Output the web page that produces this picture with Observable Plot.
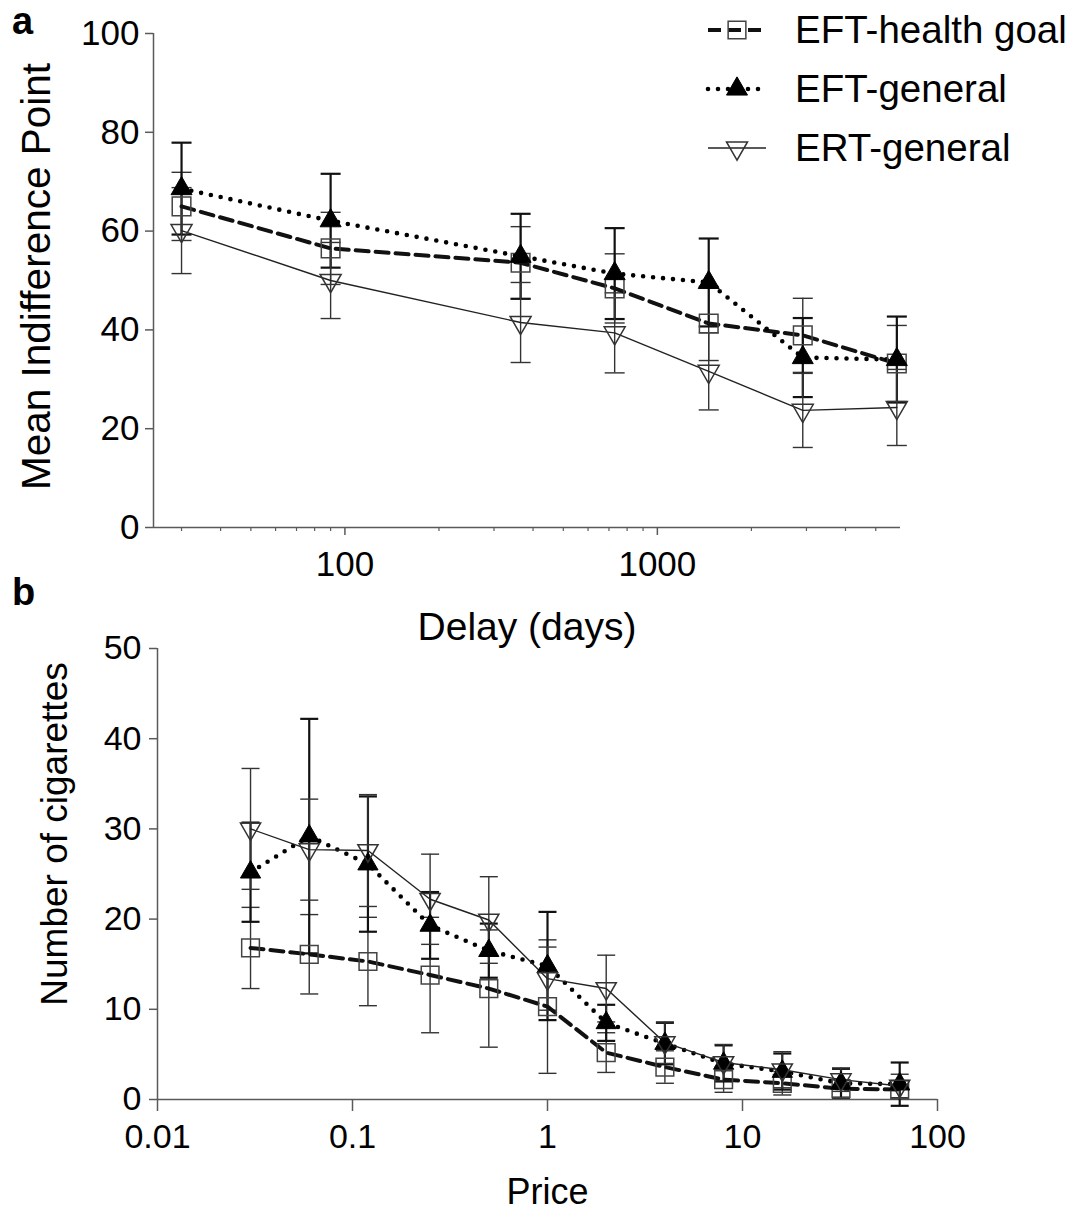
<!DOCTYPE html>
<html>
<head>
<meta charset="utf-8">
<script src="https://cdn.jsdelivr.net/npm/d3@7"></script>
<script src="https://cdn.jsdelivr.net/npm/@observablehq/plot@0.6"></script>
<style>
  body { margin: 0; background: #fff; font-family: "Liberation Sans", Arial, Helvetica, sans-serif; }
  #fig { position: relative; width: 1087px; height: 1211px; overflow: hidden; background: #fff; }
  #fig > svg { position: absolute; left: 0; }
  .panel-label { position: absolute; font-weight: bold; font-size: 38px; line-height: 1; color: #000; }
</style>
</head>
<body>
<div id="fig">
  <div class="panel-label" style="left:12px;top:2px">a</div>
  <div class="panel-label" style="left:12px;top:573px">b</div>
</div>
<script>
// ---------- Data: panel a (delay discounting) ----------
const delays = [30, 90, 365, 730, 1460, 2920, 5840];
const healthA    = [65.0, 56.5, 53.6, 48.4, 41.3, 38.9, 33.2];
const healthAErr = [6.9, 7.3, 7.3, 7.0, 7.5, 7.5, 7.7];
const genA       = [68.6, 62.1, 54.9, 51.4, 49.6, 34.4, 34.0];
const genAErr    = [9.3, 9.5, 8.6, 9.2, 8.9, 8.0, 8.7];
const ertA       = [60.1, 50.0, 41.5, 39.4, 31.6, 23.7, 24.3];
const ertAErr    = [8.7, 7.7, 8.1, 8.1, 7.8, 7.5, 7.7];
const xDomainA = [24.4, 6000];
const yDomainA = [0, 100];
const yTicksA = [0, 20, 40, 60, 80, 100];
const xMajorA = [100, 1000];
const xMinorA = [30, 40, 50, 60, 70, 80, 90, 200, 300, 400, 500, 600, 700, 800, 900, 2000, 3000, 4000, 5000];

// ---------- Data: panel b (cigarette purchase task) ----------
const prices = [0.03, 0.06, 0.12, 0.25, 0.5, 1, 2, 4, 8, 16, 32, 64];
const healthB    = [16.8, 16.1, 15.3, 13.8, 12.3, 10.3, 5.2, 3.6, 2.2, 1.8, 1.2, 1.1];
const healthBErr = [4.5, 4.4, 4.9, 6.4, 6.5, 7.4, 2.2, 1.8, 1.4, 1.3, 1.0, 1.0];
const genB       = [25.2, 29.2, 26.1, 19.3, 16.5, 14.8, 8.5, 6.2, 4.0, 3.1, 1.8, 1.7];
const genBErr    = [5.5, 13.0, 7.5, 3.7, 3.0, 6.0, 2.0, 2.3, 2.0, 2.0, 1.6, 2.4];
const ertB       = [30.0, 27.7, 27.6, 22.2, 19.9, 13.4, 12.3, 6.3, 4.1, 3.3, 2.2, 1.5];
const ertBErr    = [6.7, 5.6, 6.2, 5.0, 4.8, 3.5, 3.7, 2.3, 2.0, 2.0, 1.3, 1.3];
const xDomainB = [0.01, 100];
const yDomainB = [0, 50];
const yTicksB = [0, 10, 20, 30, 40, 50];
const xTicksB = [0.01, 0.1, 1, 10, 100];

const seriesNames = ["EFT-health goal", "EFT-general", "ERT-general"];

// ---------- helpers ----------
function rows(xs, ys, es, series) {
  return xs.map((x, i) => ({x, y: ys[i], lo: ys[i] - es[i], hi: ys[i] + es[i], series}));
}
const capSymbol = {
  draw(ctx, size) { const w = Math.sqrt(size / Math.PI); ctx.moveTo(-w, 0); ctx.lineTo(w, 0); }
};
const styles = {
  "EFT-health goal": {bar: "#333", barW: 1.4, line: {stroke: "#111", strokeWidth: 4, strokeDasharray: "13,7"},
                      dot: {symbol: "square", fill: "none", stroke: "#444", strokeWidth: 1.5}},
  "EFT-general":     {bar: "#111", barW: 2.2, line: {stroke: "#000", strokeWidth: 4.6, strokeDasharray: "0,10", strokeLinecap: "round"},
                      dot: {symbol: "triangle", fill: "#000", stroke: "#000", strokeWidth: 1}},
  "ERT-general":     {bar: "#333", barW: 1.4, line: {stroke: "#222", strokeWidth: 1.4},
                      dot: {symbol: "triangle", rotate: 180, fill: "none", stroke: "#333", strokeWidth: 1.5}}
};
function errorMarks(data, name, capR) {
  const s = styles[name];
  return [
    Plot.ruleX(data, {x: "x", y1: "lo", y2: "hi", stroke: s.bar, strokeWidth: s.barW}),
    Plot.dot(data, {x: "x", y: "lo", symbol: capSymbol, r: capR, stroke: s.bar, strokeWidth: s.barW}),
    Plot.dot(data, {x: "x", y: "hi", symbol: capSymbol, r: capR, stroke: s.bar, strokeWidth: s.barW})
  ];
}
function lineMark(data, name) { return Plot.line(data, {x: "x", y: "y", ...styles[name].line}); }
function dotMark(data, name, rs) { return Plot.dot(data, {x: "x", y: "y", r: rs[name], ...styles[name].dot}); }

const font = '"Liberation Sans", Arial, Helvetica, sans-serif';
const axisColor = "#5a5a5a";
const fig = document.getElementById("fig");

// ---------- Panel a ----------
const dataA = [
  rows(delays, healthA, healthAErr, seriesNames[0]),
  rows(delays, genA, genAErr, seriesNames[1]),
  rows(delays, ertA, ertAErr, seriesNames[2])
];
const rA = {"EFT-health goal": 10.5, "EFT-general": 7.8, "ERT-general": 7.8};
const plotA = Plot.plot({
  width: 1087, height: 660,
  marginLeft: 153, marginRight: 187, marginTop: 33, marginBottom: 133,
  style: {background: "transparent", overflow: "visible", fontFamily: font, color: "#000"},
  x: {type: "log", domain: xDomainA},
  y: {domain: yDomainA},
  marks: [
    Plot.ruleX([xDomainA[0]], {stroke: axisColor, strokeWidth: 1.5}),
    Plot.ruleY([yDomainA[0]], {stroke: axisColor, strokeWidth: 1.5, dx: 0}),
    Plot.axisY({ticks: yTicksA, tickSize: 8, tickPadding: 6, fontSize: 35, stroke: axisColor, strokeWidth: 1.5, label: null}),
    Plot.axisX({ticks: xMinorA, tickSize: 4, tickFormat: () => "", stroke: axisColor, strokeWidth: 1.2, label: null}),
    Plot.axisX({ticks: xMajorA, tickSize: 8, tickPadding: 16, tickFormat: d => String(d), fontSize: 35, stroke: axisColor, strokeWidth: 1.5, label: null}),
    Plot.text(["Delay (days)"], {frameAnchor: "bottom", textAnchor: "middle", lineAnchor: "middle", dy: 100, fontSize: 39, fill: "#000"}),
    Plot.text(["Mean Indifference Point"], {frameAnchor: "left", textAnchor: "middle", lineAnchor: "middle", rotate: -90, dx: -116, dy: -4, fontSize: 40.5, fill: "#000"}),
    ...dataA.flatMap(d => errorMarks(d, d[0].series, 10)),
    ...dataA.map(d => lineMark(d, d[0].series)),
    ...dataA.map(d => dotMark(d, d[0].series, rA))
  ]
});
plotA.style.top = "0px";
fig.appendChild(plotA);

// ---------- Panel b ----------
const dataB = [
  rows(prices, healthB, healthBErr, seriesNames[0]),
  rows(prices, genB, genBErr, seriesNames[1]),
  rows(prices, ertB, ertBErr, seriesNames[2])
];
const rB = {"EFT-health goal": 10, "EFT-general": 7.5, "ERT-general": 7.5};
const plotB = Plot.plot({
  width: 1087, height: 611,
  marginLeft: 157, marginRight: 150, marginTop: 48, marginBottom: 112,
  style: {background: "transparent", overflow: "visible", fontFamily: font, color: "#000"},
  x: {type: "log", domain: xDomainB},
  y: {domain: yDomainB},
  marks: [
    Plot.ruleX([xDomainB[0]], {stroke: axisColor, strokeWidth: 1.5}),
    Plot.ruleY([yDomainB[0]], {stroke: axisColor, strokeWidth: 1.5}),
    Plot.axisY({ticks: yTicksB, tickSize: 8, tickPadding: 8, fontSize: 34, stroke: axisColor, strokeWidth: 1.5, label: null}),
    Plot.axisX({ticks: xTicksB, tickSize: 12, tickPadding: 12, tickFormat: d => String(d), fontSize: 34, stroke: axisColor, strokeWidth: 1.5, label: null}),
    Plot.text(["Price"], {frameAnchor: "bottom", textAnchor: "middle", lineAnchor: "middle", dy: 93, fontSize: 36, fill: "#000"}),
    Plot.text(["Number of cigarettes"], {frameAnchor: "left", textAnchor: "middle", lineAnchor: "middle", rotate: -90, dx: -102, dy: -40, fontSize: 37, fill: "#000"}),
    ...dataB.flatMap(d => errorMarks(d, d[0].series, 9)),
    ...dataB.map(d => lineMark(d, d[0].series)),
    ...dataB.map(d => dotMark(d, d[0].series, rB))
  ]
});
plotB.style.top = "600px";
fig.appendChild(plotB);

// ---------- Legend (top right, overlaid) ----------
const leg = d3.create("svg").attr("width", 1087).attr("height", 180)
  .style("position", "absolute").style("left", "0px").style("top", "0px");
const legRows = [
  {name: seriesNames[0], y: 30},
  {name: seriesNames[1], y: 89},
  {name: seriesNames[2], y: 148}
];
legRows.forEach(r => {
  const s = styles[r.name];
  const g = leg.append("g").attr("transform", `translate(0,${r.y})`);
  g.append("line").attr("x1", 708).attr("x2", 766).attr("y1", 0).attr("y2", 0)
    .attr("stroke", s.line.stroke).attr("stroke-width", s.line.strokeWidth)
    .attr("stroke-dasharray", s.line.strokeDasharray || null)
    .attr("stroke-linecap", s.line.strokeLinecap || null);
  const symType = r.name === seriesNames[0] ? d3.symbolSquare : d3.symbolTriangle;
  const rr = r.name === seriesNames[0] ? 10 : 7.8;
  g.append("path").attr("d", d3.symbol(symType, rr * rr * Math.PI)())
    .attr("transform", `translate(737,0)${s.dot.rotate ? " rotate(180)" : ""}`)
    .attr("fill", s.dot.fill).attr("stroke", s.dot.stroke).attr("stroke-width", s.dot.strokeWidth);
  g.append("text").attr("x", 795).attr("y", 0).attr("dy", "0.35em")
    .attr("font-size", 38.5).attr("font-family", font).attr("fill", "#000").text(r.name);
});
fig.appendChild(leg.node());
</script>
</body>
</html>
